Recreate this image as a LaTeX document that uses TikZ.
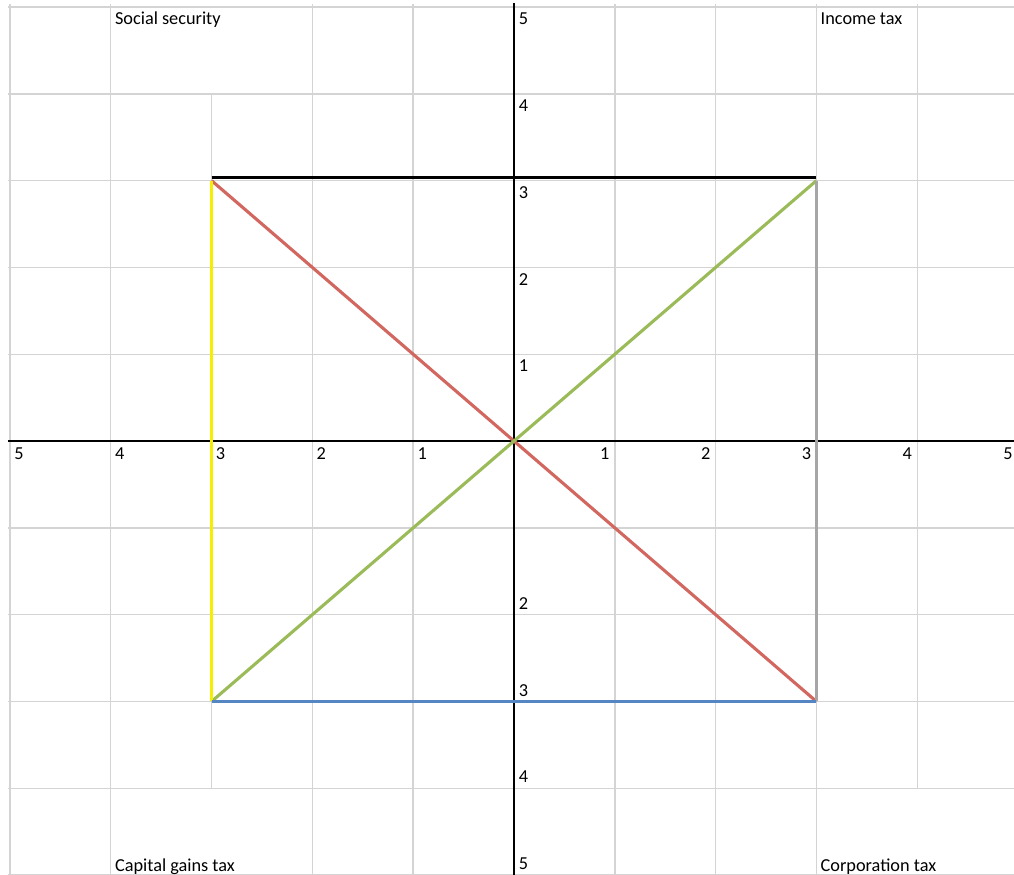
\documentclass[tikz,border=0pt]{standalone}
\usepackage{fontspec}
\setmainfont{Carlito}
\usepackage{tikz}
\definecolor{gridgray}{HTML}{D4D4D4}
\definecolor{taxred}{HTML}{D2675F}
\definecolor{taxgreen}{HTML}{9BBB59}
\definecolor{taxblue}{HTML}{5585C2}
\definecolor{taxyellow}{HTML}{F4EF00}
\definecolor{taxgray}{HTML}{A6A6A6}
\tikzset{
  gridline/.style={draw=gridgray, line width=1pt},
  axisline/.style={draw=black, line width=0.8pt},
  taxedge/.style={line width=2.2pt},
  ticklbl/.style={font=\fontsize{13}{15}\selectfont, text=black, inner sep=0pt},
  cornerlbl/.style={font=\fontsize{13}{15}\selectfont, text=black, inner sep=0pt, anchor=base west}
}

\begin{document}
\begin{tikzpicture}[x=2.52cm, y=2.17cm]
\path[use as bounding box, fill=white] (-5.099,-4.988) rectangle (4.960,5.081);
\foreach \y in {-5,...,5} \draw[gridline] (-5.02,\y) -- (4.96,\y);
\foreach \x/\lo/\hi in {-5/-5.1/5.03,-4/-5.1/5.03,-3/-4/4,-2/-5.1/5.03,-1/-5.1/5.03,
  1/-5.1/5.03,2/-5.1/5.03,3/-5.1/5.03,4/-4/5.03}
  \draw[gridline] (\x,\lo) -- (\x,\hi);
\draw[axisline] (-5.02,0) -- (4.96,0);
\draw[axisline] (0,-5.1) -- (0,5.05);
\coordinate (ss) at (-3,3);
\coordinate (it) at (3,3);
\coordinate (cg) at (-3,-3);
\coordinate (ct) at (3,-3);
\draw[taxedge, taxred] (ss) -- (ct);
\draw[taxedge, taxgreen] (cg) -- (it);
\draw[taxedge, taxyellow] (ss) -- (cg);
\draw[taxedge, taxgray] (it) -- (ct);
\draw[taxedge, taxblue] (cg) -- (ct);
\draw[taxedge, black] ([yshift=2.5pt]ss) -- ([yshift=2.5pt]it);
\foreach \k in {1,...,5} \node[ticklbl, anchor=west] (yp\k) at (0.045,\k-0.135) {\k};
\foreach \k in {2,...,5} \node[ticklbl, anchor=west] (yn\k) at (0.045,-\k+0.13) {\k};
\foreach \k in {1,...,5} \node[ticklbl, anchor=west] (xn\k) at (-\k+0.04,-0.15) {\k};
\foreach \k in {1,...,5} \node[ticklbl, anchor=east] (xp\k) at (\k-0.05,-0.15) {\k};
\node[cornerlbl] (socsec) at (-3.96,4.793) {Social security};
\node[cornerlbl] (inctax) at (3.04,4.793) {Income tax};
\node[cornerlbl] (capgain) at (-3.96,-4.954) {Capital gains tax};
\node[cornerlbl] (corptax) at (3.04,-4.954) {Corporation tax};
\end{tikzpicture}
\end{document}
